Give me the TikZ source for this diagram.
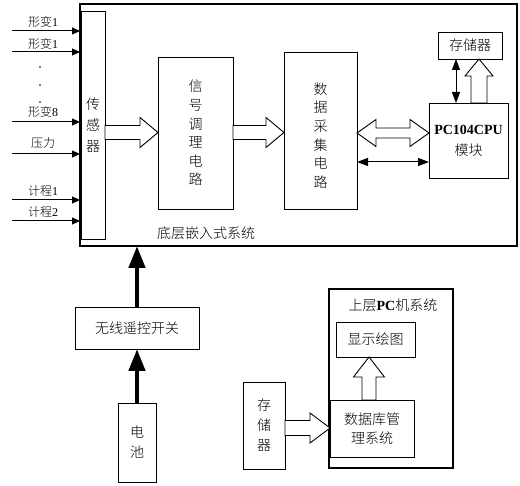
\documentclass[tikz,border=0pt]{standalone}
\usepackage{fontspec}
\setmainfont{Liberation Serif}
\newfontfamily\cjk{Noto Sans CJK SC}[UprightFont={* Light}]
\newfontfamily\lat{Liberation Serif}
\usetikzlibrary{arrows.meta,calc}
\newcommand\blockH[6]{%
  \draw[blk] ({#1},{#3-#4}) -- ({#2-(#6)},{#3-#4}) -- ({#2-(#6)},{#3-#5}) -- ({#2},{#3})
    -- ({#2-(#6)},{#3+#5}) -- ({#2-(#6)},{#3+#4}) -- ({#1},{#3+#4}) -- cycle;}
\newcommand\blockV[6]{%
  \draw[blk] ({#1-#4},{#2}) -- ({#1-#4},{#3-(#6)}) -- ({#1-#5},{#3-(#6)}) -- ({#1},{#3})
    -- ({#1+#5},{#3-(#6)}) -- ({#1+#4},{#3-(#6)}) -- ({#1+#4},{#2}) -- cycle;}
\newcommand\blockDH[6]{%
  \draw[blk] ({#1},{#3}) -- ({#1+#6},{#3-#5}) -- ({#1+#6},{#3-#4}) -- ({#2-#6},{#3-#4})
    -- ({#2-#6},{#3-#5}) -- ({#2},{#3}) -- ({#2-#6},{#3+#5}) -- ({#2-#6},{#3+#4})
    -- ({#1+#6},{#3+#4}) -- ({#1+#6},{#3+#5}) -- cycle;}
\begin{document}
\begin{tikzpicture}[x=1pt,y=-1pt,
  box/.style={draw, line width=0.9pt, inner sep=0pt, outer sep=0pt,
    font=\cjk\fontsize{14}{19}\selectfont, align=center},
  blk/.style={draw, line width=0.9pt, fill=white},
  dblthin/.style={line width=1pt, {Triangle[length=11pt,width=8pt]}-{Triangle[length=11pt,width=8pt]}},
  inarr/.style={line width=1pt, -{Triangle[length=8pt,width=7pt]}},
  bigarrow/.style={line width=4.5pt, -{Triangle[length=22pt,width=16pt]}},
  lbl/.style={font=\cjk\fontsize{12}{14}\selectfont, inner sep=0pt},
  txt/.style={font=\cjk\fontsize{14}{19}\selectfont, inner sep=0pt, align=center}
]
\useasboundingbox (0,0) rectangle (520,486);

% upper embedded system
\node[box, line width=2.6pt, minimum width=437pt, minimum height=242pt] (main) at (298.5,125) {};
\node[box, minimum width=24pt, minimum height=228pt, font=\cjk\fontsize{14}{21}\selectfont] (sensor) at (93,125) {传\\感\\器};
\node[box, minimum width=75pt, minimum height=152pt, font=\cjk\fontsize{14}{18.6}\selectfont] (signal) at (195.5,133) {信\\号\\调\\理\\电\\路};
\node[box, minimum width=73pt, minimum height=157pt] (data) at (320.5,130.5) {};
\node[txt, font=\cjk\fontsize{14}{18.6}\selectfont] (datatxt) at (320.5,135.5) {数\\据\\采\\集\\电\\路};
\node[box, minimum width=79pt, minimum height=75pt, font=\cjk\fontsize{14}{21}\selectfont] (cpu) at (468.5,140.5) {{\lat\bfseries PC104CPU}\\模块};
\node[box, minimum width=64pt, minimum height=27pt] (mem1) at (470,45.5) {存储器};
\node[txt] (lowlbl) at (206,233) {底层嵌入式系统};

% inputs
\node[lbl] (l1) at (43,22) {形变{\lat 1}};
\node[lbl] (l2) at (43,44) {形变{\lat 1}};
\node[lbl] (l3) at (43,112) {形变{\lat 8}};
\node[lbl] (l4) at (43,143) {压力};
\node[lbl] (l5) at (43,191) {计程{\lat 1}};
\node[lbl] (l6) at (43,212) {计程{\lat 2}};
\fill (40,67) circle (0.8pt) (40,85) circle (0.8pt) (40,102) circle (0.8pt);
\coordinate (i1) at (12,31);
\coordinate (i2) at (12,52);
\coordinate (i3) at (12,122);
\coordinate (i4) at (12,154);
\coordinate (i5) at (12,200);
\coordinate (i6) at (12,221);
\foreach \c in {i1,i2,i3,i4,i5,i6} \draw[inarr] (\c) -- (\c -| main.west);

% block arrows
\blockH{105}{158}{132.5}{7}{15}{18}
\blockH{233}{284}{132.5}{7}{15}{18}
\blockDH{357}{429}{133}{5}{13.5}{19}
\blockV{479}{103}{59}{8}{14}{-17}
\draw[dblthin] (data.east |- 0,162) -- (cpu.west |- 0,162);
\draw[dblthin] (mem1.south -| 456,0) -- (cpu.north -| 456,0);

% power
\node[box, minimum width=124pt, minimum height=42pt] (switch) at (137,328) {无线遥控开关};
\node[box, minimum width=38pt, minimum height=79pt, font=\cjk\fontsize{14}{20}\selectfont] (battery) at (137,442.5) {电\\池};
\draw[bigarrow] (switch.north) -- (switch.north |- main.south);
\draw[bigarrow] (battery.north) -- (switch.south);

% upper PC
\node[box, minimum width=42pt, minimum height=87pt, font=\cjk\fontsize{14}{20}\selectfont] (mem2) at (264,425.5) {存\\储\\器};
\node[box, line width=2.4pt, minimum width=124pt, minimum height=179pt] (pc) at (391,378.5) {};
\node[txt] (pclbl) at (393,305) {上层{\lat\bfseries PC}机系统};
\node[box, minimum width=79pt, minimum height=35pt] (disp) at (375.5,339.5) {显示绘图};
\node[box, minimum width=84pt, minimum height=57pt] (db) at (372,428.5) {数据库管\\理系统};
\blockV{369}{400}{357}{7}{15.5}{-20}
\blockH{285}{330}{428}{7.5}{15}{20}
\end{tikzpicture}
\end{document}
